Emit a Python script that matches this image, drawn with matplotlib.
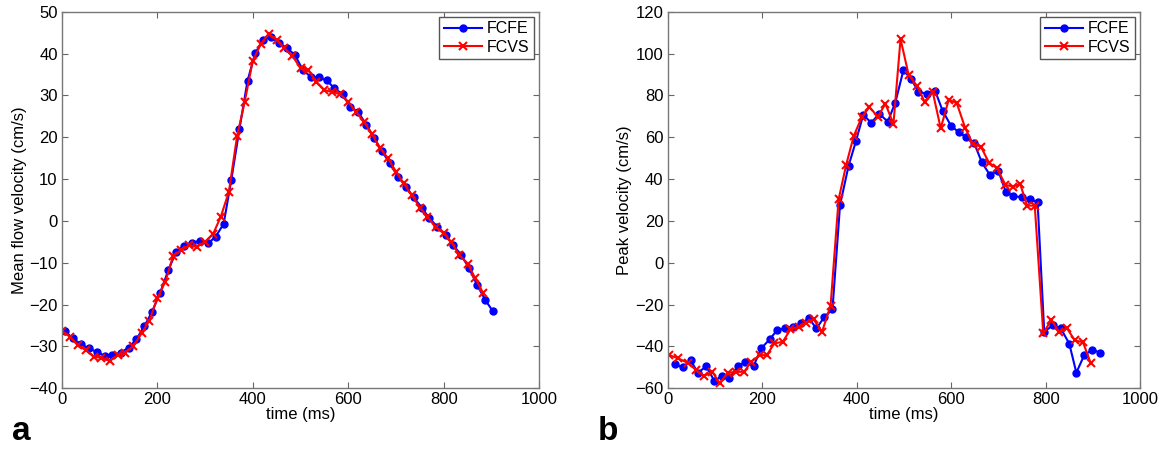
import numpy as np
import matplotlib
matplotlib.use('Agg')
import matplotlib.pyplot as plt

plt.rcParams['font.family'] = ['Liberation Sans', 'DejaVu Sans']

# panel a: mean flow velocity (cm/s)
t_mean_fcfe = [6, 23, 40, 56, 73, 90, 106, 123, 140, 156, 173, 189, 206, 223, 239,
               256, 272, 289, 306, 322, 339, 355, 372, 389, 405, 422, 438, 455, 472,
               488, 505, 521, 538, 555, 571, 588, 604, 621, 638, 654, 671, 687, 704,
               721, 737, 754, 770, 787, 804, 820, 837, 853, 870, 887, 903]
mean_fcfe = [-26.3, -28.1, -29.5, -30.5, -31.3, -32.3, -32.1, -31.5, -30.3, -28.3,
             -25.2, -21.7, -17.2, -11.8, -7.5, -5.9, -5.2, -4.8, -5.4, -3.8, -0.7,
             9.8, 21.9, 33.5, 40.1, 43.3, 44.0, 42.5, 41.3, 39.7, 36.1, 34.5, 34.3,
             33.6, 31.7, 30.3, 27.3, 26.0, 23.0, 19.9, 16.6, 13.8, 10.6, 8.2, 5.6,
             3.2, 0.6, -1.4, -3.4, -5.8, -8.2, -11.3, -15.3, -18.9, -21.6]

t_mean_fcvs = [0, 17, 33, 50, 67, 83, 100, 117, 133, 150, 167, 183, 200, 217, 233,
               250, 267, 283, 300, 317, 333, 350, 367, 383, 400, 417, 433, 450, 466,
               483, 500, 516, 533, 550, 566, 583, 600, 616, 633, 650, 666, 683, 700,
               716, 733, 750, 766, 783, 800, 816, 833, 850, 866, 883]
mean_fcvs = [-26.3, -27.7, -29.7, -30.9, -32.5, -32.7, -33.5, -32.1, -31.5, -29.9,
             -26.9, -23.9, -18.5, -14.5, -8.4, -7.0, -5.8, -6.2, -5.0, -3.1, 1.0,
             7.0, 20.2, 28.4, 38.3, 42.3, 44.7, 43.3, 41.3, 39.5, 36.5, 36.1, 33.3,
             31.3, 30.8, 30.3, 28.5, 26.1, 23.7, 20.7, 17.5, 15.0, 11.8, 9.0, 6.2,
             3.2, 1.0, -1.4, -3.0, -5.1, -8.2, -10.2, -13.7, -17.3]

# panel b: peak velocity (cm/s)
t_peak_fcfe = [15, 32, 49, 64, 82, 99, 115, 131, 149, 164, 182, 198, 216, 232, 249,
               265, 283, 299, 315, 332, 349, 365, 383, 399, 414, 431, 448, 466, 482,
               499, 515, 531, 548, 566, 582, 600, 616, 632, 649, 665, 682, 700, 716,
               732, 749, 767, 783, 797, 815, 832, 850, 865, 882, 899, 916]
peak_fcfe = [-48.5, -50.1, -46.6, -52.7, -49.5, -56.5, -54.2, -55.0, -49.5, -47.7,
             -49.5, -41.0, -36.7, -32.2, -31.4, -30.6, -29.0, -26.6, -31.4, -25.9,
             -22.3, 27.6, 46.3, 58.4, 70.7, 67.0, 71.2, 67.5, 76.6, 92.0, 88.0, 81.8,
             80.8, 82.3, 72.7, 65.4, 62.5, 60.0, 57.1, 48.0, 42.0, 43.9, 33.7, 31.9,
             31.3, 30.3, 29.0, -33.0, -30.0, -31.4, -38.7, -52.6, -44.0, -41.7, -43.0]

t_peak_fcvs = [4, 23, 43, 61, 77, 95, 110, 128, 144, 162, 177, 195, 210, 226, 244,
               260, 278, 293, 309, 327, 345, 362, 378, 394, 411, 427, 445, 461, 478,
               493, 510, 528, 544, 561, 578, 595, 612, 630, 646, 663, 680, 697, 715,
               731, 746, 761, 777, 795, 812, 829, 845, 862, 879, 895]
peak_fcvs = [-44.2, -45.8, -47.9, -51.4, -54.2, -52.2, -57.5, -52.7, -52.2, -52.2,
             -47.4, -44.2, -44.2, -38.6, -37.8, -31.9, -30.6, -28.7, -27.1, -33.0,
             -20.5, 30.3, 46.8, 60.6, 69.6, 74.4, 69.9, 76.0, 66.4, 107.0, 90.0, 84.5,
             77.0, 81.8, 64.3, 78.0, 76.3, 64.3, 56.8, 55.5, 47.9, 45.2, 37.2, 36.4,
             37.7, 27.3, 27.3, -33.8, -27.3, -33.3, -31.3, -37.2, -38.0, -47.8]

fig = plt.figure(figsize=(11.67, 4.54), dpi=100)
ax1 = fig.add_axes([0.053, 0.145, 0.409, 0.829])
ax2 = fig.add_axes([0.572, 0.145, 0.405, 0.829])


def style_axes(ax, ylim, yticks, ylabel):
    ax.set_xlim(0, 1000)
    ax.set_ylim(*ylim)
    ax.set_xticks(np.arange(0, 1001, 200))
    ax.set_yticks(yticks)
    ax.tick_params(direction='in', top=True, right=True, labelsize=12,
                   length=4, color='#666666', pad=3)
    for s in ax.spines.values():
        s.set_color('#777777')
        s.set_linewidth(1.0)
    ax.set_xlabel('time (ms)', fontsize=12, labelpad=0)
    ax.set_ylabel(ylabel, fontsize=12, labelpad=2)
    ax.legend(loc='upper right', fontsize=11.5, fancybox=False, edgecolor='#555555',
              framealpha=1, handlelength=2.4, borderpad=0.3, labelspacing=0.2,
              handletextpad=0.3, borderaxespad=0.3)


ax1.plot(t_mean_fcfe, mean_fcfe, '-o', color='blue', lw=1.5, ms=5, label='FCFE')
ax1.plot(t_mean_fcvs, mean_fcvs, '-x', color='red', lw=1.5, ms=6, mew=1.5, label='FCVS')
style_axes(ax1, (-40, 50), np.arange(-40, 51, 10), 'Mean flow velocity (cm/s)')

ax2.plot(t_peak_fcfe, peak_fcfe, '-o', color='blue', lw=1.5, ms=5, label='FCFE')
ax2.plot(t_peak_fcvs, peak_fcvs, '-x', color='red', lw=1.5, ms=6, mew=1.5, label='FCVS')
style_axes(ax2, (-60, 120), np.arange(-60, 121, 20), 'Peak velocity (cm/s)')

fig.text(0.01, 0.03, 'a', fontsize=24, fontweight='bold')
fig.text(0.512, 0.03, 'b', fontsize=24, fontweight='bold')

fig.savefig('out.png', dpi=100)
